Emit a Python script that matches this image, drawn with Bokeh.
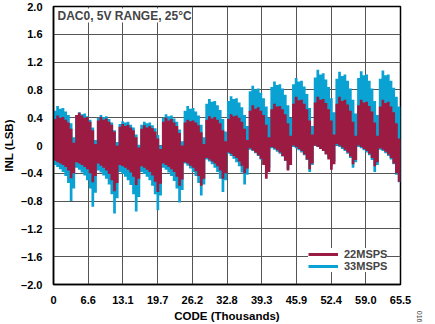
import numpy as np
from bokeh.plotting import figure
from bokeh.models import ColumnDataSource, Label, Legend, LegendItem, FixedTicker, Range1d, Title
from bokeh.embed import file_html
from bokeh.resources import INLINE

# ---------------- data ----------------
CODE_FULL_K = 65.536          # thousands of codes
BIN_K = 0.512                 # each value covers 512 codes

# 22 MSPS (maroon) – upper / lower envelope per 512-code bin
p22_upper = [
    0.38, 0.43, 0.40, 0.41, 0.37, 0.33, 0.24, 0.04,
    0.44, 0.47, 0.43, 0.40, 0.41, 0.34, 0.22, 0.02,
    0.36, 0.41, 0.37, 0.39, 0.34, 0.30, 0.20, 0.00,
    0.27, 0.31, 0.28, 0.30, 0.26, 0.22, 0.12, -0.03,
    0.24, 0.29, 0.26, 0.28, 0.25, 0.20, 0.10, -0.05,
    0.34, 0.40, 0.36, 0.38, 0.33, 0.28, 0.18, 0.00,
    0.33, 0.37, 0.35, 0.36, 0.33, 0.29, 0.19, 0.02,
    0.37, 0.42, 0.39, 0.41, 0.37, 0.32, 0.22, 0.06,
    0.38, 0.45, 0.42, 0.43, 0.40, 0.34, 0.24, 0.08,
    0.50, 0.58, 0.53, 0.55, 0.50, 0.44, 0.30, 0.12,
    0.52, 0.60, 0.56, 0.57, 0.52, 0.45, 0.32, 0.14,
    0.60, 0.70, 0.65, 0.66, 0.60, 0.52, 0.36, 0.16,
    0.62, 0.70, 0.66, 0.67, 0.61, 0.52, 0.36, 0.16,
    0.60, 0.70, 0.64, 0.66, 0.59, 0.50, 0.34, 0.14,
    0.58, 0.66, 0.62, 0.63, 0.57, 0.49, 0.33, 0.14,
    0.56, 0.66, 0.61, 0.63, 0.56, 0.48, 0.32, 0.10]
p22_lower = [
    -0.22, -0.24, -0.26, -0.28, -0.31, -0.36, -0.47, -0.40,
    -0.24, -0.26, -0.28, -0.31, -0.34, -0.40, -0.53, -0.44,
    -0.26, -0.29, -0.32, -0.36, -0.41, -0.50, -0.66, -0.54,
    -0.28, -0.30, -0.32, -0.35, -0.39, -0.45, -0.57, -0.48,
    -0.30, -0.32, -0.35, -0.38, -0.43, -0.52, -0.67, -0.55,
    -0.26, -0.28, -0.31, -0.34, -0.38, -0.45, -0.58, -0.49,
    -0.24, -0.26, -0.29, -0.32, -0.37, -0.44, -0.58, -0.48,
    -0.18, -0.20, -0.23, -0.26, -0.30, -0.36, -0.48, -0.40,
    -0.10, -0.12, -0.15, -0.18, -0.23, -0.29, -0.40, -0.33,
    -0.04, -0.07, -0.10, -0.14, -0.19, -0.28, -0.48, -0.38,
    -0.02, -0.04, -0.07, -0.10, -0.15, -0.22, -0.36, -0.28,
    0.00, -0.02, -0.05, -0.08, -0.13, -0.20, -0.34, -0.26,
    0.00, -0.02, -0.05, -0.08, -0.13, -0.20, -0.35, -0.27,
    0.02, 0.00, -0.03, -0.06, -0.10, -0.16, -0.27, -0.21,
    0.00, -0.02, -0.05, -0.08, -0.12, -0.18, -0.30, -0.24,
    -0.04, -0.06, -0.09, -0.13, -0.18, -0.26, -0.40, -0.52]

# 33 MSPS (blue)
p33_upper = [
    0.50, 0.57, 0.53, 0.54, 0.49, 0.44, 0.32, 0.12,
    0.44, 0.48, 0.45, 0.46, 0.42, 0.37, 0.26, 0.08,
    0.40, 0.44, 0.41, 0.42, 0.38, 0.33, 0.22, 0.05,
    0.31, 0.35, 0.33, 0.34, 0.30, 0.26, 0.16, 0.01,
    0.30, 0.34, 0.32, 0.33, 0.29, 0.25, 0.15, 0.00,
    0.40, 0.45, 0.42, 0.43, 0.39, 0.34, 0.23, 0.06,
    0.50, 0.57, 0.53, 0.54, 0.49, 0.43, 0.30, 0.12,
    0.60, 0.67, 0.63, 0.64, 0.58, 0.51, 0.38, 0.20,
    0.64, 0.71, 0.67, 0.68, 0.62, 0.55, 0.44, 0.28,
    0.78, 0.86, 0.81, 0.82, 0.76, 0.68, 0.56, 0.40,
    0.84, 0.92, 0.87, 0.88, 0.82, 0.73, 0.58, 0.40,
    0.88, 0.97, 0.92, 0.93, 0.85, 0.74, 0.54, 0.28,
    0.98, 1.09, 1.02, 1.04, 0.95, 0.84, 0.68, 0.48,
    0.96, 1.06, 1.00, 1.02, 0.93, 0.82, 0.66, 0.46,
    0.97, 1.07, 1.01, 1.02, 0.93, 0.82, 0.64, 0.44,
    0.96, 1.08, 1.01, 1.02, 0.93, 0.83, 0.70, 0.56]
p33_lower = [
    -0.28, -0.31, -0.34, -0.38, -0.44, -0.54, -0.80, -0.62,
    -0.32, -0.35, -0.39, -0.43, -0.50, -0.62, -0.88, -0.68,
    -0.36, -0.39, -0.43, -0.48, -0.56, -0.70, -0.98, -0.76,
    -0.38, -0.41, -0.45, -0.50, -0.57, -0.70, -0.95, -0.74,
    -0.38, -0.41, -0.45, -0.50, -0.58, -0.70, -0.93, -0.72,
    -0.32, -0.35, -0.39, -0.44, -0.51, -0.62, -0.82, -0.64,
    -0.26, -0.29, -0.33, -0.38, -0.44, -0.54, -0.72, -0.56,
    -0.20, -0.23, -0.27, -0.32, -0.38, -0.48, -0.67, -0.50,
    -0.12, -0.15, -0.19, -0.24, -0.30, -0.39, -0.56, -0.42,
    -0.06, -0.08, -0.11, -0.15, -0.20, -0.27, -0.40, -0.32,
    -0.04, -0.06, -0.09, -0.12, -0.16, -0.22, -0.34, -0.27,
    -0.02, -0.04, -0.07, -0.10, -0.14, -0.21, -0.38, -0.28,
    0.00, -0.02, -0.05, -0.08, -0.12, -0.18, -0.30, -0.23,
    0.00, -0.02, -0.05, -0.08, -0.12, -0.18, -0.32, -0.24,
    -0.02, -0.04, -0.07, -0.10, -0.14, -0.21, -0.38, -0.28,
    -0.06, -0.08, -0.11, -0.15, -0.20, -0.27, -0.42, -0.53]

x_tick_labels = ["0", "6.6", "13.1", "19.7", "26.2", "32.8", "39.3", "45.9", "52.4", "59.0", "65.5"]
y_ticks = [-2.0, -1.6, -1.2, -0.8, -0.4, 0.0, 0.4, 0.8, 1.2, 1.6, 2.0]
series_names = ["22MSPS", "33MSPS"]

C22 = "#9C1B42"
C33 = "#0AA2D3"
FONT = "Liberation Sans"

# ---------------- build ----------------
n = len(p22_upper)
x = np.arange(n + 1) * BIN_K
def ext(a):
    return list(a) + [a[-1]]

src = ColumnDataSource(dict(x=x, u22=ext(p22_upper), l22=ext(p22_lower),
                            u33=ext(p33_upper), l33=ext(p33_lower)))

p = figure(width=435, height=324, output_backend="svg", toolbar_location=None,
           x_range=Range1d(0, CODE_FULL_K), y_range=Range1d(-2.0, 2.0),
           min_border_left=50, min_border_right=35, min_border_top=6, min_border_bottom=38)
p.background_fill_color = "white"
p.border_fill_color = "white"
p.outline_line_color = "black"
p.outline_line_width = 1.5

r33 = p.varea_step(x="x", y1="l33", y2="u33", step_mode="after", source=src, fill_color=C33)
r22 = p.varea_step(x="x", y1="l22", y2="u22", step_mode="after", source=src, fill_color=C22)

xt = [i * CODE_FULL_K / 10 for i in range(11)]
p.xaxis.ticker = FixedTicker(ticks=xt)
p.xaxis.major_label_overrides = {t: l for t, l in zip(xt, x_tick_labels)}
p.yaxis.ticker = FixedTicker(ticks=y_ticks)
p.yaxis.major_label_overrides = {t: (f"{t:.1f}".replace("-", "\u2013") if t != 0 else "0") for t in y_ticks}

for ax in (p.xaxis[0], p.yaxis[0]):
    ax.major_tick_line_color = None
    ax.minor_tick_line_color = None
    ax.axis_line_color = "black"
    ax.axis_line_width = 1.5
    ax.major_label_text_font = FONT
    ax.major_label_text_font_style = "bold"
    ax.major_label_text_font_size = "11px"
    ax.major_label_text_color = "black"
    ax.axis_label_text_font = FONT
    ax.axis_label_text_font_style = "bold"
    ax.axis_label_text_font_size = "11.5px"
    ax.axis_label_text_color = "black"
p.xaxis.axis_label = "CODE (Thousands)"
p.yaxis.axis_label = "INL (LSB)"
p.xaxis.major_label_standoff = 5
p.yaxis.major_label_standoff = 5
p.xaxis.axis_label_standoff = 3
p.yaxis.axis_label_standoff = 3

p.grid.grid_line_color = "#555555"
p.grid.grid_line_width = 1
p.grid.grid_line_alpha = 1.0

# legend with thick line glyphs (renderers carry no visible points)
blank = ColumnDataSource(dict(x=[np.nan], y=[np.nan]))
l22 = p.line("x", "y", source=blank, line_color=C22, line_width=3)
l33 = p.line("x", "y", source=blank, line_color=C33, line_width=3)
legend = Legend(items=[LegendItem(label=series_names[0], renderers=[l22]),
                       LegendItem(label=series_names[1], renderers=[l33])],
                location=(255, 12), margin=0, padding=3, spacing=0,
                glyph_width=30, glyph_height=12, label_height=12, label_standoff=6,
                label_text_font=FONT, label_text_font_style="bold", label_text_font_size="11px",
                background_fill_color="white", background_fill_alpha=1.0, border_line_color=None)
p.add_layout(legend)

title = Label(x=4, y=262, x_units="screen", y_units="screen", text="DAC0, 5V RANGE, 25\u00b0C",
              text_font=FONT, text_font_style="bold", text_font_size="12px",
              background_fill_color="white", background_fill_alpha=1.0,
              border_line_color=None)
p.add_layout(title)

spacer = Title(text=" ", text_font_size="12px", standoff=0)
p.add_layout(spacer, "right")
fig_no = Title(text="016", align="right", text_font=FONT, text_font_size="7px",
               text_color="#444444", text_font_style="normal", offset=-38, standoff=0)
p.add_layout(fig_no, "right")

open("out.html", "w").write(file_html(p, INLINE))
